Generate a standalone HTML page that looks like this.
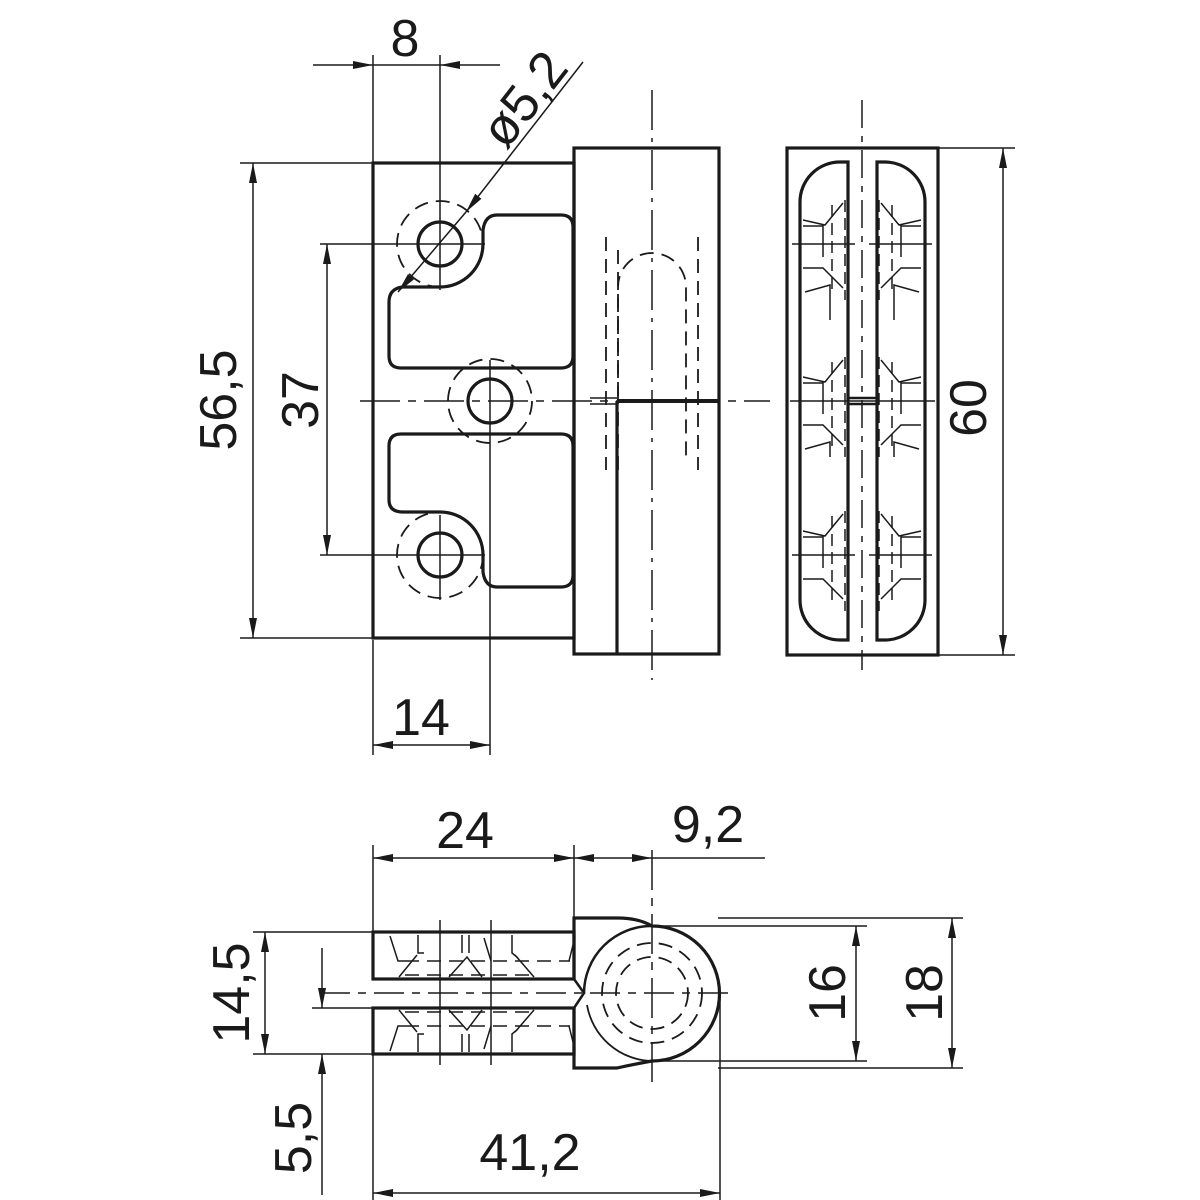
<!DOCTYPE html>
<html><head><meta charset="utf-8"><style>
html,body{margin:0;padding:0;background:#fff;}
svg{display:block;}
text{font-family:"Liberation Sans",sans-serif;font-size:52px;fill:#1a1a1a;}
</style></head><body>
<svg width="1200" height="1200" viewBox="0 0 1200 1200" xmlns="http://www.w3.org/2000/svg">
<defs>
<marker id="a" viewBox="0 0 20 8" refX="20" refY="4" markerWidth="20" markerHeight="8" orient="auto-start-reverse" markerUnits="userSpaceOnUse">
<path d="M0,0 L20,4 L0,8 Z" fill="#1a1a1a"/></marker>
</defs>
<g stroke="#1a1a1a" fill="none">
<!-- ===== FRONT VIEW ===== -->
<g stroke-width="3.2">
<rect x="373" y="163" width="201" height="475"/>
<rect x="574" y="148" width="145" height="506"/>
<line x1="617" y1="401" x2="617" y2="654"/>
<line x1="617" y1="401" x2="719" y2="401" stroke-width="4"/>
<path d="M497,215 H561 Q573,215 573,227 V356 Q573,368 561,368 H401 Q389,368 389,356 V302 Q389,289 402,287 H440 A43,43 0 0 0 483,244 V230 Q485,215 497,215 Z"/>
<path d="M401,434 H561 Q573,434 573,446 V575 Q573,587 561,587 H497 Q485,587 483,572 V555 A43,43 0 0 0 440,512 H403 Q389,512 389,500 V446 Q389,434 401,434 Z"/>
<circle cx="440" cy="244" r="22"/>
<circle cx="490" cy="401" r="22"/>
<circle cx="440" cy="555" r="22"/>
</g>
<g stroke-width="1.8" stroke-dasharray="14,8">
<circle cx="440" cy="244" r="43"/>
<circle cx="490" cy="401" r="42"/>
<circle cx="440" cy="555" r="43"/>
<line x1="606" y1="237" x2="606" y2="470"/>
<line x1="618" y1="250" x2="618" y2="400"/>
<path d="M618,470 V400 M618,400 V287 A34,34 0 0 1 686,287 V462"/>
<line x1="698" y1="237" x2="698" y2="470"/>
</g>
<g stroke-width="1.5">
<line x1="652" y1="90" x2="652" y2="680" stroke-dasharray="40,8,4,8"/>
<line x1="320" y1="244" x2="485" y2="244"/>
<line x1="320" y1="555" x2="485" y2="555"/>
<line x1="440" y1="55" x2="440" y2="290"/>
<line x1="440" y1="515" x2="440" y2="600"/>
<line x1="490" y1="360" x2="490" y2="755"/>
<line x1="373" y1="55" x2="373" y2="163"/>
<line x1="373" y1="640" x2="373" y2="755"/>
<line x1="360" y1="401" x2="770" y2="401" stroke-dasharray="40,8,8,8"/>
<line x1="590" y1="398" x2="617" y2="398"/><line x1="590" y1="404" x2="617" y2="404"/>
</g>
<!-- ===== SIDE VIEW ===== -->
<g stroke-width="3.2">
<rect x="787" y="148" width="151" height="507"/>
<path d="M848,162 V640 H840 A40,40 0 0 1 800,600 V202 A40,40 0 0 1 840,162 Z"/>
<path d="M877,162 V640 H885 A40,40 0 0 0 925,600 V202 A40,40 0 0 0 885,162 Z"/>
<rect x="848" y="398" width="29" height="6" stroke-width="2.5"/>
</g>
<g stroke-width="1.5">
<line x1="862" y1="100" x2="862" y2="670" stroke-dasharray="28,8,6,8"/>
<line x1="790" y1="401" x2="935" y2="401"/>
<g id="sg">
<path d="M792,244 H855 M803,220 L825,225 L843,203 M803,226 H823 V257 M803,268 H823 L843,288 M805,292 L830,285 V320"/>
<path d="M832,205 V290 M845,200 V300" stroke-dasharray="12,6"/>
</g>
<use href="#sg" transform="translate(1724,0) scale(-1,1)"/>
<g transform="translate(0,157)">
<path d="M803,220 L825,225 L843,203 M803,226 H823 V257 M803,268 H823 L843,288 M805,292 L830,285 V300"/>
<path d="M832,205 V290 M845,200 V300" stroke-dasharray="12,6"/>
</g>
<g transform="translate(1724,157) scale(-1,1)">
<path d="M803,220 L825,225 L843,203 M803,226 H823 V257 M803,268 H823 L843,288 M805,292 L830,285 V300"/>
<path d="M832,205 V290 M845,200 V300" stroke-dasharray="12,6"/>
</g>
<g transform="translate(0,311)">
<path d="M792,244 H855 M803,220 L825,225 L843,203 M803,226 H823 V257 M803,268 H823 L843,288"/>
<path d="M832,205 V290 M845,200 V300" stroke-dasharray="12,6"/>
</g>
<g transform="translate(1724,311) scale(-1,1)">
<path d="M792,244 H855 M803,220 L825,225 L843,203 M803,226 H823 V257 M803,268 H823 L843,288"/>
<path d="M832,205 V290 M845,200 V300" stroke-dasharray="12,6"/>
</g>
</g>
<!-- ===== BOTTOM VIEW ===== -->
<g stroke-width="3.2">
<rect x="373" y="932" width="201" height="47"/>
<rect x="373" y="1008" width="201" height="46"/>
<path d="M574,979 V918 H618 Q638,918 652,926 A67.5,67.5 0 0 1 652,1061 Q635,1064 617,1068 H574 V1008"/>
<path d="M652,926 A67.5,67.5 0 0 0 584,993" stroke-width="2.5"/>
<path d="M574,979 L584,993 L574,1008" stroke-width="2.5"/>
<path d="M652,1061 A67.5,67.5 0 0 1 587,1005" stroke-width="1.8"/>
</g>
<g stroke-width="1.8" stroke-dasharray="14,8">
<circle cx="652" cy="993" r="50"/>
<circle cx="652" cy="993" r="36"/>
</g>
<g stroke-width="1.5">
<line x1="320" y1="993" x2="735" y2="993" stroke-dasharray="30,8,8,8"/>
<line x1="652" y1="850" x2="652" y2="1085" stroke-dasharray="40,8,8,8"/>
<line x1="440" y1="920" x2="440" y2="1065"/>
<line x1="491" y1="920" x2="491" y2="1065"/>
<line x1="720" y1="993" x2="720" y2="1205"/>
<g id="pl">
<path d="M390,936 L398,961 H405 M418,935 V953 H424 M462,935 V953 M469,935 V953 M484,938 L491,961 M512,935 V953 L518,958 M399,977 L417,955 M449,977 L467,957 L482,977 M515,955 L534,977 M569,961 L575,937"/>
<path d="M405,961 H570 M405,975 H530" stroke-dasharray="14,8"/>
</g>
<use href="#pl" transform="translate(0,1987) scale(1,-1)"/>
</g>
<!-- ===== DIMENSIONS ===== -->
<g stroke-width="1.5">
<line x1="313" y1="65" x2="373" y2="65" marker-end="url(#a)"/>
<line x1="500" y1="65" x2="440" y2="65" marker-end="url(#a)"/>
<line x1="373" y1="65" x2="440" y2="65"/>
<line x1="583" y1="62" x2="466" y2="212" marker-end="url(#a)"/>
<line x1="466" y1="212" x2="398" y2="292" marker-end="url(#a)"/>
<line x1="240" y1="163" x2="372" y2="163"/>
<line x1="240" y1="638" x2="372" y2="638"/>
<line x1="253" y1="400" x2="253" y2="163" marker-end="url(#a)"/>
<line x1="253" y1="400" x2="253" y2="638" marker-end="url(#a)"/>
<line x1="327" y1="400" x2="327" y2="244" marker-end="url(#a)"/>
<line x1="327" y1="400" x2="327" y2="555" marker-end="url(#a)"/>
<line x1="431" y1="745" x2="373" y2="745" marker-end="url(#a)"/>
<line x1="431" y1="745" x2="490" y2="745" marker-end="url(#a)"/>
<line x1="938" y1="148" x2="1015" y2="148"/>
<line x1="938" y1="655" x2="1015" y2="655"/>
<line x1="1003" y1="400" x2="1003" y2="148" marker-end="url(#a)"/>
<line x1="1003" y1="400" x2="1003" y2="655" marker-end="url(#a)"/>
<line x1="373" y1="845" x2="373" y2="932"/>
<line x1="574" y1="845" x2="574" y2="918"/>
<line x1="474" y1="858" x2="373" y2="858" marker-end="url(#a)"/>
<line x1="474" y1="858" x2="574" y2="858" marker-end="url(#a)"/>
<line x1="613" y1="858" x2="574" y2="858" marker-end="url(#a)"/>
<line x1="613" y1="858" x2="652" y2="858" marker-end="url(#a)"/>
<line x1="652" y1="858" x2="765" y2="858"/>
<line x1="652" y1="926" x2="867" y2="926"/>
<line x1="652" y1="1061" x2="867" y2="1061"/>
<line x1="718" y1="918" x2="963" y2="918"/>
<line x1="718" y1="1068" x2="963" y2="1068"/>
<line x1="856" y1="993" x2="856" y2="926" marker-end="url(#a)"/>
<line x1="856" y1="993" x2="856" y2="1061" marker-end="url(#a)"/>
<line x1="952" y1="993" x2="952" y2="918" marker-end="url(#a)"/>
<line x1="952" y1="993" x2="952" y2="1068" marker-end="url(#a)"/>
<line x1="253" y1="932" x2="372" y2="932"/>
<line x1="253" y1="1054" x2="372" y2="1054"/>
<line x1="312" y1="1008" x2="372" y2="1008"/>
<line x1="265" y1="993" x2="265" y2="932" marker-end="url(#a)"/>
<line x1="265" y1="993" x2="265" y2="1054" marker-end="url(#a)"/>
<line x1="322" y1="948" x2="322" y2="1008" marker-end="url(#a)"/>
<line x1="322" y1="1195" x2="322" y2="1054" marker-end="url(#a)"/>
<line x1="373" y1="1054" x2="373" y2="1205"/>
<line x1="546" y1="1193" x2="373" y2="1193" marker-end="url(#a)"/>
<line x1="546" y1="1193" x2="720" y2="1193" marker-end="url(#a)"/>
</g>
</g>
<g>
<text x="405" y="56" text-anchor="middle">8</text>
<text transform="translate(538,110) rotate(-52)" text-anchor="middle">ø5,2</text>
<text transform="translate(236,400) rotate(-90)" text-anchor="middle">56,5</text>
<text transform="translate(318,400) rotate(-90)" text-anchor="middle">37</text>
<text x="421" y="735" text-anchor="middle">14</text>
<text transform="translate(986,408) rotate(-90)" text-anchor="middle">60</text>
<text x="465" y="848" text-anchor="middle">24</text>
<text x="708" y="842" text-anchor="middle">9,2</text>
<text transform="translate(845,993) rotate(-90)" text-anchor="middle">16</text>
<text transform="translate(942,993) rotate(-90)" text-anchor="middle">18</text>
<text transform="translate(249,993) rotate(-90)" text-anchor="middle">14,5</text>
<text transform="translate(311,1138) rotate(-90)" text-anchor="middle">5,5</text>
<text x="530" y="1170" text-anchor="middle">41,2</text>
</g>
</svg>
</body></html>
